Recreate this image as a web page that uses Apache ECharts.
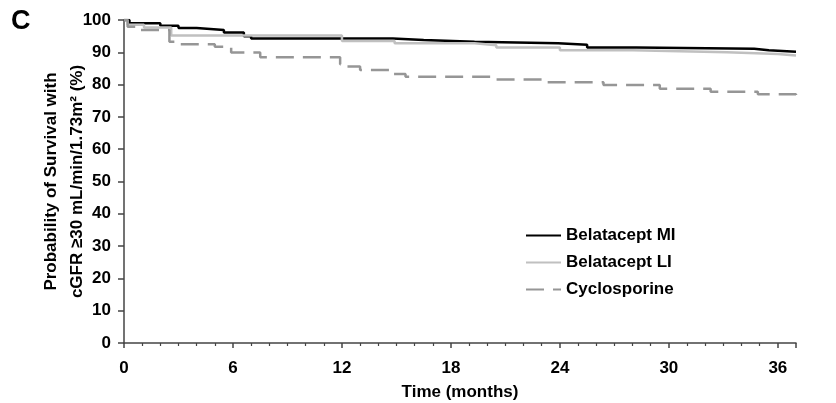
<!DOCTYPE html>
<html>
<head>
<meta charset="utf-8">
<script src="https://cdn.jsdelivr.net/npm/echarts@6/dist/echarts.min.js"></script>
<style>
  html, body { margin: 0; padding: 0; background: #fff; }
  #main { width: 836px; height: 403px; }
</style>
</head>
<body>
<div id="main"></div>
<script>
// Kaplan-Meier steps: [month, survival %] - value holds until next point
var belataceptMI = [
  [0, 100], [0.3, 99.0], [2.0, 98.2], [3.0, 97.5], [4.0, 96.9], [5.5, 96.1],
  [6.6, 95.0], [7.0, 94.3], [14.8, 93.8], [16.5, 93.3], [19.3, 92.8],
  [23.9, 92.3], [25.5, 91.5], [28.2, 91.1], [34.7, 90.6], [35.5, 90.2], [37, 90.0]
]
var belataceptLI = [
  [0, 100], [0.2, 98.5], [1.1, 97.7], [2.6, 95.2], [12.0, 93.5], [14.9, 92.8],
  [19.3, 92.2], [20.5, 91.5], [24.0, 90.6], [28.0, 90.0], [33.2, 89.5],
  [36.0, 89.0], [37, 89.0]
]
var cyclosporine = [
  [0, 100], [0.2, 97.9], [0.9, 96.9], [2.5, 93.3], [2.9, 92.5], [5.0, 91.7],
  [5.9, 89.9], [7.5, 88.5], [11.9, 86.3], [12.2, 85.6], [13.0, 84.5],
  [14.6, 83.3], [15.5, 82.4], [20.5, 81.6], [23.0, 80.7], [26.4, 79.9],
  [29.5, 78.7], [32.3, 77.8], [34.9, 77.0], [37, 76.3]
]
var seriesNames = ['Belatacept MI', 'Belatacept LI', 'Cyclosporine']

var font = 'Arial, "Liberation Sans", sans-serif'
var myChart = echarts.init(document.getElementById('main'))

var option = {
  animation: false,
  textStyle: { fontFamily: font },
  title: {
    text: 'C',
    left: 6, top: 3,
    textStyle: { fontSize: 27, fontWeight: 'bold', color: '#000', fontFamily: font }
  },
  grid: { left: 124, right: 40, top: 20, bottom: 60, outerBoundsMode: 'none' },
  legend: {
    orient: 'vertical',
    left: 520, top: 222,
    itemWidth: 35, itemHeight: 17, itemGap: 10,
    data: seriesNames,
    itemStyle: { opacity: 0 },
    textStyle: { fontSize: 17, fontWeight: 'bold', color: '#000', fontFamily: font }
  },
  xAxis: {
    type: 'value',
    min: 0, max: 37, interval: 6,
    name: 'Time (months)',
    nameLocation: 'middle',
    nameGap: 41,
    nameMoveOverlap: false,
    nameTextStyle: { fontSize: 17, fontWeight: 'bold', color: '#000' },
    axisLine: { lineStyle: { color: '#444', width: 1.5 } },
    axisTick: { show: true, inside: false, length: 5, lineStyle: { color: '#444', width: 1.5 } },
    minorTick: { show: true, splitNumber: 6, length: 3, lineStyle: { color: '#444', width: 1.2 } },
    axisLabel: { fontSize: 17, fontWeight: 'bold', color: '#000', margin: 17, showMaxLabel: false },
    splitLine: { show: false }
  },
  yAxis: {
    type: 'value',
    min: 0, max: 100, interval: 10,
    name: 'Probability of Survival with\ncGFR \u226530 mL/min/1.73m\u00b2 (%)',
    nameLocation: 'middle',
    nameGap: 34,
    nameMoveOverlap: false,
    nameTextStyle: { fontSize: 17, fontWeight: 'bold', color: '#000', lineHeight: 26 },
    axisLine: { show: true, lineStyle: { color: '#444', width: 1.5 } },
    axisTick: { show: true, inside: false, length: 6, lineStyle: { color: '#444', width: 1.5 } },
    axisLabel: { fontSize: 17, fontWeight: 'bold', color: '#000', margin: 13 },
    splitLine: { show: false }
  },
  series: [
    {
      name: seriesNames[0], type: 'line', step: 'end', data: belataceptMI,
      symbol: 'none', color: '#000',
      lineStyle: { color: '#000', width: 2.5 }
    },
    {
      name: seriesNames[1], type: 'line', step: 'end', data: belataceptLI,
      symbol: 'none', color: '#c0c0c0',
      lineStyle: { color: '#c0c0c0', width: 2.5 }
    },
    {
      name: seriesNames[2], type: 'line', step: 'end', data: cyclosporine,
      symbol: 'none', color: '#969696',
      lineStyle: { color: '#969696', width: 2.5, type: [18, 9] }
    }
  ]
}
myChart.setOption(option)
</script>
</body>
</html>
